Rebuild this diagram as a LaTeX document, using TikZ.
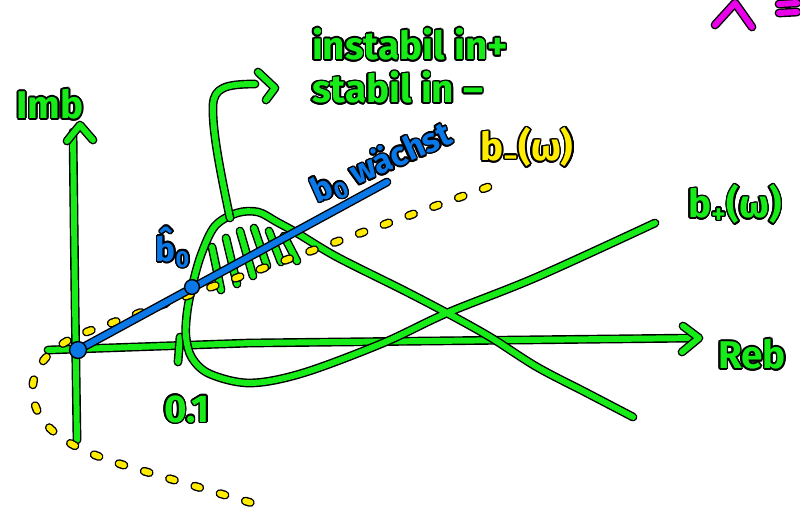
\documentclass[tikz,border=0pt]{standalone}
\usepackage{fontspec}
\setmainfont{Fira Sans}
\usepackage{contour}
\contourlength{0.9pt}
\usetikzlibrary{positioning}

\definecolor{penGreen}{RGB}{24,236,24}
\definecolor{penBlue}{RGB}{10,120,230}
\definecolor{penYellow}{RGB}{255,236,0}
\definecolor{penMagenta}{RGB}{232,0,232}

\begin{document}
\begin{tikzpicture}[x=0.02cm, y=-0.02cm]
    % Stili
    \tikzset{
        penline/.style={draw=black, line width=0.8pt, double=#1, double distance=3.4pt, line cap=round, line join=round},
        penline/.default=penGreen,
        dashpen/.style={penline=penYellow, dash pattern=on 3pt off 12pt},
        handtext/.style={text=#1, font=\fontsize{22}{26}\selectfont\bfseries, inner sep=0pt},
        dot/.style={fill=penBlue, draw=black, line width=0.8pt}
    }
    \useasboundingbox (0,0) rectangle (800,529);

    % Punti
    \coordinate (O) at (78,350);
    \coordinate (B0) at (192,287);

    % Assi
    \draw[penline] (77,440) -- (75,300) -- (73,132);
    \draw[penline] (67,141) -- (80,125) -- (93,140);
    \draw[penline] (48,350) -- (250,343) -- (698,338);
    \draw[penline] (683,326) -- (699,338) -- (682,352);
    \draw[penline] (180,337) -- (178,362);

    % Curva b+
    \draw[penline] plot[smooth, tension=0.55] coordinates {
        (633,417) (587,393) (537,367) (490,337) (447,313) (403,290) (337,257)
        (297,233) (277,222) (258,212) (237,213) (215,226) (201,255) (192,287)
        (187,313) (186,337) (192,358) (210,374) (250,383) (303,373) (383,343)
        (447,313) (537,277) (655,223)};

    % Freccia verso il testo
    \draw[penline] (230,218) .. controls (220,170) and (212,130) .. (213,105)
        .. controls (214,88) and (225,84) .. (255,84);
    \draw[penline] (258,72) -- (275,88) -- (266,100);

    % Tratteggio
    \foreach \xa/\ya/\xb/\yb in {212/247/221/290, 226/238/237/284, 240/231/253/276,
        254/228/267/266, 269/231/281/262, 284/236/297/261}
        \draw[penline] (\xa,\ya) -- (\xb,\yb);

    % Curva b-
    \draw[dashpen] (488,187) -- (95,329) .. controls (45,345) and (25,375) .. (35,405)
        .. controls (45,435) and (80,452) .. (130,467) -- (252,503);

    % b0
    \draw[penline=penBlue] (O) -- (387,182);
    \fill[dot] (O) circle (4.8pt);
    \fill[dot] (B0) circle (4.2pt);

    % Testi
    \node[handtext=penGreen] (instab) at (410,45) {\contour{black}{instabil in+}};
    \node[handtext=penGreen, below right=5pt and 0pt of instab.south west] (stab)
        {\contour{black}{stabil in –}};
    \node[handtext=penGreen] (imb) at (50,105) {\contour{black}{Imb}};
    \node[handtext=penGreen] (reb) at (752,355) {\contour{black}{Reb}};
    \node[handtext=penGreen] (bplus) at (735,205) {\contour{black}{b\textsubscript{+}(ω)}};
    \node[handtext=penYellow] (bminus) at (527,148) {\contour{black}{b\textsubscript{−}(ω)}};
    \node[handtext=penGreen] (tick) at (187,410) {\contour{black}{0.1}};
    \node[handtext=penBlue, font=\fontsize{19}{22}\selectfont\bfseries, rotate=24]
        (grows) at (382,164) {\contour{black}{b\textsubscript{0} wächst}};
    \node[handtext=penBlue, font=\fontsize{19}{22}\selectfont\bfseries]
        (bhat) at (173,248) {\contour{black}{\^{b}\textsubscript{0}}};

    % Segno in alto
    \draw[penline=penMagenta] (715,25) -- (735,3) -- (752,27);
    \draw[penline=penMagenta] (779,4) -- (797,3);
    \draw[penline=penMagenta] (779,13) -- (797,12);
\end{tikzpicture}
\end{document}
